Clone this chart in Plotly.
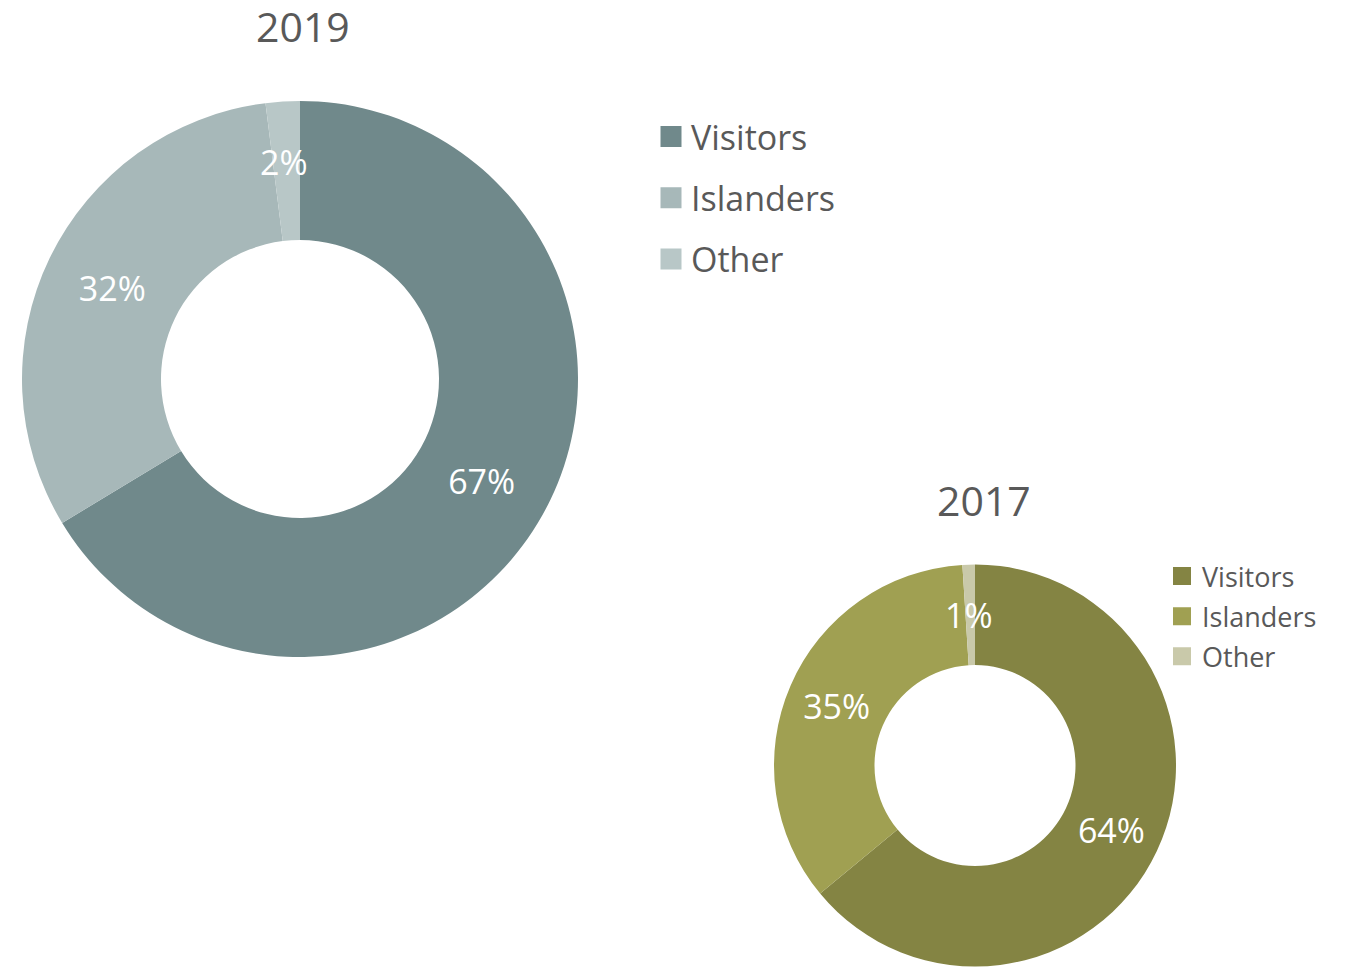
import plotly.graph_objects as go

# ---- data ----
categories = ["Visitors", "Islanders", "Other"]
share_2019 = [67, 32, 2]
share_2017 = [64, 35, 1]
colors_2019 = ["#70898B", "#A7B8B9", "#B8C7C7"]
colors_2017 = ["#848443", "#A0A052", "#C9C9AA"]
titles = ["2019", "2017"]

W, H = 1345, 968
FONT = "Open Sans"
GREY = "#595959"


def labels(vals):
    out = []
    for v in vals:
        s = f"{v}%"
        # very thin slices: push label toward the middle of the ring
        if v < 5:
            s = "\u00a0<br>\u00a0<br>" + s
        out.append(s)
    return out


def dom(cx, cy, r):
    return dict(x=[(cx - r) / W, (cx + r) / W], y=[1 - (cy + r) / H, 1 - (cy - r) / H])


fig = go.Figure()

fig.add_trace(go.Pie(
    labels=categories, values=share_2019, text=labels(share_2019),
    textinfo="text", textposition="inside", insidetextorientation="horizontal",
    hole=0.5, sort=False, direction="clockwise", rotation=0,
    marker=dict(colors=colors_2019, line=dict(width=0)),
    textfont=dict(family=FONT, size=34, color="#FFFFFF"),
    domain=dom(300, 379, 278), showlegend=False, hoverinfo="label+percent",
))
fig.add_trace(go.Pie(
    labels=categories, values=share_2017, text=labels(share_2017),
    textinfo="text", textposition="inside", insidetextorientation="horizontal",
    hole=0.5, sort=False, direction="clockwise", rotation=0,
    marker=dict(colors=colors_2017, line=dict(width=0)),
    textfont=dict(family=FONT, size=34, color="#FFFFFF"),
    domain=dom(975, 765.5, 201), showlegend=False, hoverinfo="label+percent",
))

# legend entries (square swatches)
for name, c in zip(categories, colors_2019):
    fig.add_trace(go.Scatter(
        x=[None], y=[None], mode="markers", name=name, legend="legend",
        legendgroup="a" + name,
        marker=dict(symbol="square", size=16, color=c, line=dict(width=5, color=c)),
    ))
for name, c in zip(categories, colors_2017):
    fig.add_trace(go.Scatter(
        x=[None], y=[None], mode="markers", name=name, legend="legend2",
        legendgroup="b" + name,
        marker=dict(symbol="square", size=13, color=c, line=dict(width=5, color=c)),
    ))

fig.update_layout(
    width=W, height=H,
    margin=dict(l=0, r=0, t=0, b=0),
    paper_bgcolor="white", plot_bgcolor="white",
    xaxis=dict(visible=False), yaxis=dict(visible=False),
    uniformtext=dict(minsize=34, mode="show"),
    legend=dict(
        x=651 / W, y=1 - 108 / H, xanchor="left", yanchor="top",
        font=dict(family=FONT, size=34, color=GREY),
        traceorder="grouped", tracegroupgap=14, itemsizing="trace",
        bgcolor="rgba(0,0,0,0)",
    ),
    legend2=dict(
        x=1162 / W, y=1 - 552 / H, xanchor="left", yanchor="top",
        font=dict(family=FONT, size=27, color=GREY),
        traceorder="grouped", tracegroupgap=2, itemsizing="trace",
        bgcolor="rgba(0,0,0,0)",
    ),
    annotations=[
        dict(text=titles[0], x=303 / W, y=1 - 26 / H, xref="paper", yref="paper",
             xanchor="center", yanchor="middle", showarrow=False,
             font=dict(family=FONT, size=41, color=GREY)),
        dict(text=titles[1], x=984 / W, y=1 - 500 / H, xref="paper", yref="paper",
             xanchor="center", yanchor="middle", showarrow=False,
             font=dict(family=FONT, size=41, color=GREY)),
    ],
)

fig.write_html("out.html", config={"displayModeBar": False},
               post_script="document.body.style.margin='0';")
